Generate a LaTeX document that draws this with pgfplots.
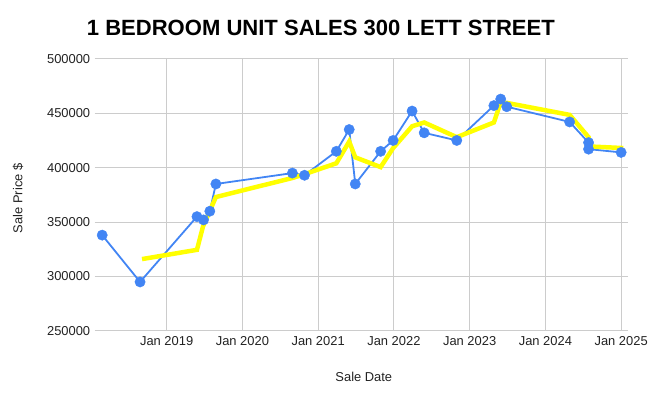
\documentclass[border=0pt]{standalone}
\usepackage{pgfplots}
\pgfplotsset{compat=1.18}
\usepackage{pgfplotstable}
\usepackage{fontspec}
\setmainfont{Liberation Sans}
\definecolor{gblue}{HTML}{4285F4}
\definecolor{gyellow}{HTML}{FFFF00}
\definecolor{ggrid}{HTML}{CCCCCC}
\definecolor{gtext}{HTML}{222222}
\pgfplotstableread{
x y
2018.149 338000
2018.649 295000
2019.400 355000
2019.487 352000
2019.570 360000
2019.650 385000
2020.660 395000
2020.820 393000
2021.240 415000
2021.410 435000
2021.490 385000
2021.825 415000
2021.990 425000
2022.240 452000
2022.400 432000
2022.830 425000
2023.320 457000
2023.410 463000
2023.490 456000
2024.320 442000
2024.570 423000
2024.570 417000
2025.000 414000
}\sales
\pgfplotstableread{
x y
2018.675 316000
2019.400 324500
2019.480 346000
2019.650 373000
2020.660 390500
2020.820 394000
2021.240 404000
2021.410 424000
2021.490 409500
2021.825 400500
2021.990 418000
2022.240 438000
2022.400 441500
2022.830 428000
2023.320 441500
2023.410 460000
2023.490 459500
2024.320 448500
2024.570 428000
2024.570 419500
2025.030 418000
}\trend
\begin{document}
\begin{tikzpicture}[x=1bp,y=1bp]
\path (0,0) rectangle (651,398);
\begin{axis}[
  at={(95bp,66bp)}, anchor=south west,
  scale only axis, width=535bp, height=273bp,
  xmin=2018.05, xmax=2025.09,
  ymin=250000, ymax=500000,
  axis line style={draw=none},
  axis x line*=bottom,
  xtick={2019,2020,2021,2022,2023,2024,2025},
  xticklabels={Jan 2019,Jan 2020,Jan 2021,Jan 2022,Jan 2023,Jan 2024,Jan 2025},
  ytick={250000,300000,350000,400000,450000,500000},
  yticklabel style={/pgf/number format/fixed,/pgf/number format/1000 sep={}},
  scaled y ticks=false,
  /pgf/number format/assume math mode=true,
  major tick length=0pt,
  grid=major,
  major grid style={ggrid, line width=1.1bp},
  ticklabel style={font=\fontsize{13}{15}\selectfont, text=gtext},
  xticklabel style={yshift=-2bp},
  yticklabel style={xshift=-1bp},
  clip=false,
]
\addplot[gblue, line width=1.8bp] table[x=x,y=y]{\sales};
\addplot[gyellow, line width=4.5bp] table[x=x,y=y]{\trend};
\addplot[only marks, mark=*, mark size=5.2bp, gblue, mark options={draw=gblue, fill=gblue}] table[x=x,y=y]{\sales};
\end{axis}
\node[anchor=west, font=\bfseries\fontsize{22.2}{24}\selectfont, text=black, inner sep=0] at (87,370) {1 BEDROOM UNIT SALES 300 LETT STREET};
\node[font=\fontsize{13}{15}\selectfont, text=gtext] at (365,20) {Sale Date};
\node[font=\fontsize{13}{15}\selectfont, text=gtext, rotate=90] at (18,199) {Sale Price \$};
\end{tikzpicture}
\end{document}
